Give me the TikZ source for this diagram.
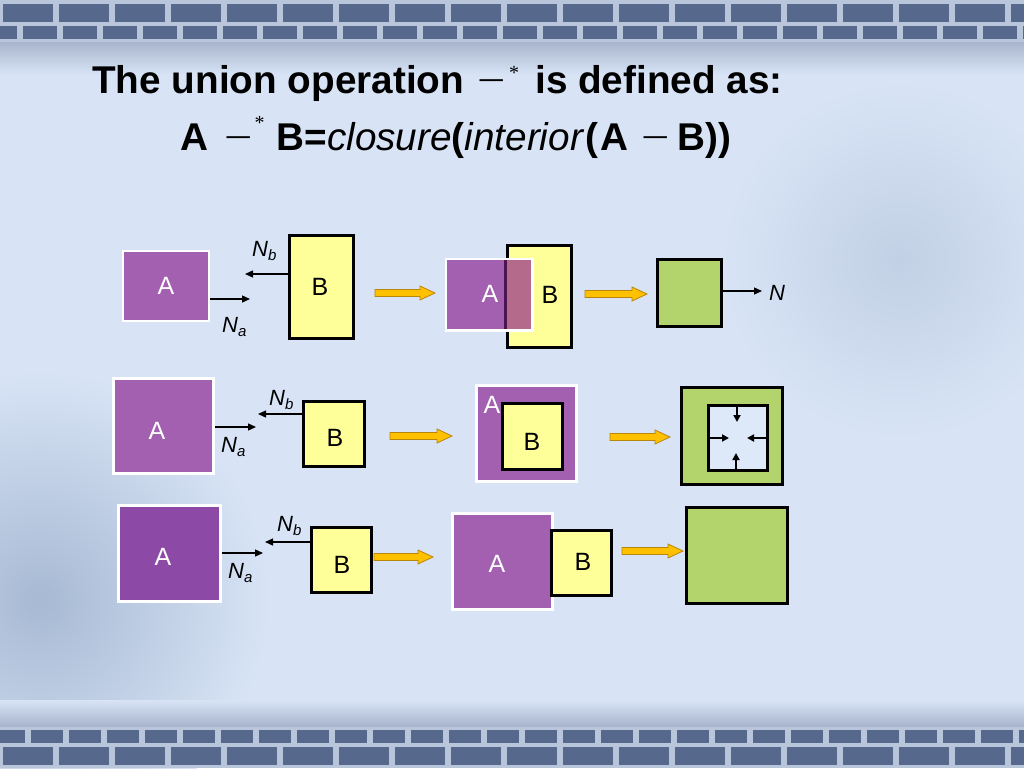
\documentclass[tikz,border=0pt]{standalone}
\usepackage{fontspec}
\setmainfont{Liberation Sans}
\newfontfamily\serifminus{Liberation Serif}
\usetikzlibrary{arrows.meta,calc}
\definecolor{bgc}{HTML}{D8E4F6}
\definecolor{purp}{HTML}{A35FB0}
\definecolor{purpd}{HTML}{8C4AA6}
\definecolor{yel}{HTML}{FFFF99}
\definecolor{grn}{HTML}{B3D46C}
\definecolor{ovl}{HTML}{B36A8B}
\definecolor{darkp}{HTML}{4A1552}
\definecolor{arrfill}{HTML}{FFC000}
\definecolor{arrdraw}{HTML}{B8860B}
\definecolor{brick}{HTML}{56698C}
\definecolor{mortar}{HTML}{B9C5DA}
\definecolor{innerc}{HTML}{DDE9F8}
\definecolor{blobl}{HTML}{A7B9D3}
\definecolor{blobr}{HTML}{C2D0E5}
\tikzset{
  abox/.style={draw=white, line width=2.5pt, fill=purp, inner sep=0pt},
  bbox/.style={draw=black, line width=3pt, fill=yel, inner sep=0pt},
  gbox/.style={draw=black, line width=3pt, fill=grn, inner sep=0pt},
  wlab/.style={text=white, font=\fontsize{25}{25}\selectfont, inner sep=0pt},
  klab/.style={text=black, font=\fontsize{25}{25}\selectfont, inner sep=0pt},
  nlab/.style={anchor=base west, inner sep=0pt, font=\fontsize{22}{22}\selectfont\itshape},
  narr/.style={line width=1.3pt, -{Triangle[length=8pt,width=7pt]}},
  narrin/.style={line width=2pt, -{Triangle[length=7pt,width=7pt]}},
  yarr/.style={fill=arrfill, draw=arrdraw, line width=0.8pt, line join=miter},
}
\newcommand{\subsc}[1]{\raisebox{-4pt}{\fontsize{15}{15}\selectfont #1}}
\newcommand{\wminus}{{\serifminus\mdseries\scalebox{1.3}[1]{−}}}
\newcommand{\yarrow}[2]{\draw[yarr] ($(#1)+(0,-3.5)$) -- ($(#2)+(-15,-3.5)$) -- ($(#2)+(-15,-7)$) -- (#2) -- ($(#2)+(-15,7)$) -- ($(#2)+(-15,3.5)$) -- ($(#1)+(0,3.5)$) -- cycle;}
\begin{document}
\begin{tikzpicture}[x=1pt,y=-1pt]
\useasboundingbox (0,0) rectangle (1024,768);
% background
\fill[bgc] (0,0) rectangle (1024,768);
\begin{scope}
\clip (0,0) rectangle (1024,768);
\shade[inner color=blobl, outer color=bgc] (40,600) circle (230);
\shade[inner color=blobr, outer color=bgc] (900,260) circle (180);
\end{scope}
\shade[top color=mortar!80!brick, bottom color=bgc] (0,40) rectangle (1024,75);
\fill[mortar] (0,0) rectangle (1024,42);
\foreach \x in {0,56,...,1024} \fill[brick] (\x+3,4) rectangle (\x+53,22);
\foreach \x in {-20,20,...,1024} \fill[brick] (\x+3,26) rectangle (\x+37,39);
\shade[top color=bgc, bottom color=mortar!80!brick] (0,700) rectangle (1024,727);
\fill[mortar] (0,727) rectangle (1024,768);
\foreach \x in {-10,28,...,1024} \fill[brick] (\x+3,730) rectangle (\x+35,743);
\foreach \x in {0,56,...,1024} \fill[brick] (\x+3,747) rectangle (\x+53,765);
% title
\node[anchor=base west, inner sep=0pt, font=\fontsize{38.7}{40}\selectfont\bfseries] (title1) at (92,93)
  {The union operation \hspace{3pt}\wminus\hspace{3pt}{\serifminus\mdseries\raisebox{14pt}{\fontsize{20}{20}\selectfont *}}\hspace{16pt}is defined as:};
\node[anchor=base west, inner sep=0pt, font=\fontsize{38.7}{40}\selectfont\bfseries] (title2) at (180,150)
  {A\hspace{16pt}\wminus\hspace{2pt}{\serifminus\mdseries\raisebox{21pt}{\fontsize{20}{20}\selectfont *}}\hspace{12pt}B={\mdseries\itshape closure}({\mdseries\itshape interior}\hspace{2pt}(\hspace{3pt}A\hspace{13pt}\wminus\hspace{7pt}B))};
% ---------- row 1 ----------
\node[abox, minimum width=86, minimum height=70] (A1) at (166,286) {};
\node[wlab] (A1t) at (166,286) {A};
\node[bbox, minimum width=64, minimum height=103] (B1) at (321,286.5) {};
\node[klab] (B1t) at (320,287) {B};
\coordinate (na1) at (250,299);
\draw[narr] (A1.east |- na1) -- (na1);
\node[nlab] (Na1) at (222,332) {N\subsc{a}};
\coordinate (nb1) at (245,274);
\draw[narr] (B1.west |- nb1) -- (nb1);
\node[nlab] (Nb1) at (252,256) {N\subsc{b}};
\coordinate (y1s) at (375,293); \coordinate (y1e) at (435,293);
\yarrow{y1s}{y1e}
\node[bbox, minimum width=64, minimum height=102] (B1b) at (539,296) {};
\node[abox, draw=none, minimum width=84, minimum height=69] (A1b) at (489,294.5) {};
\fill[ovl] (B1b.west |- A1b.north) rectangle (A1b.south east);
\draw[darkp, line width=3pt] (B1b.west |- A1b.north) -- (B1b.west |- A1b.south);
\draw[white, line width=2.5pt] (A1b.north west) rectangle (A1b.south east);
\node[wlab] (A1bt) at (490,294) {A};
\node[klab] (B1bt) at (550,295) {B};
\coordinate (y2s) at (585,294); \coordinate (y2e) at (647,294);
\yarrow{y2s}{y2e}
\node[gbox, minimum width=64, minimum height=67] (G1) at (689.5,293) {};
\coordinate (n1) at (762,291);
\draw[narr] (G1.east |- n1) -- (n1);
\node[nlab] (N1) at (769,300) {N};
% ---------- row 2 ----------
\node[abox, minimum width=100, minimum height=95] (A2) at (163.5,426) {};
\node[wlab] (A2t) at (157,431) {A};
\coordinate (na2) at (256,427);
\draw[narr] (A2.east |- na2) -- (na2);
\node[nlab] (Na2) at (221,452) {N\subsc{a}};
\node[bbox, minimum width=61, minimum height=65] (B2) at (334,434) {};
\node[klab] (B2t) at (335,438) {B};
\coordinate (nb2) at (258,414);
\draw[narr] (B2.west |- nb2) -- (nb2);
\node[nlab] (Nb2) at (269,405) {N\subsc{b}};
\coordinate (y3s) at (390,436); \coordinate (y3e) at (452,436);
\yarrow{y3s}{y3e}
\node[abox, minimum width=100, minimum height=96] (A2b) at (526.5,433.5) {};
\node[wlab] (A2bt) at (492,405) {A};
\node[bbox, minimum width=60, minimum height=66] (B2b) at (532.5,436.5) {};
\node[klab] (B2bt) at (532,442) {B};
\coordinate (y4s) at (610,437); \coordinate (y4e) at (670,437);
\yarrow{y4s}{y4e}
\node[gbox, minimum width=101, minimum height=97] (G2) at (732,436) {};
\node[draw=black, line width=3pt, fill=innerc, inner sep=0pt, minimum width=59, minimum height=65] (I2) at (738,438) {};
\coordinate (t2top) at (737,422);
\coordinate (t2bot) at (736,453);
\coordinate (t2lft) at (729,438);
\coordinate (t2rgt) at (747,438);
\draw[narrin] (I2.north -| t2top) -- (t2top);
\draw[narrin] (I2.south -| t2bot) -- (t2bot);
\draw[narrin] (I2.west |- t2lft) -- (t2lft);
\draw[narrin] (I2.east |- t2rgt) -- (t2rgt);
% ---------- row 3 ----------
\node[abox, fill=purpd, minimum width=102, minimum height=96] (A3) at (169.5,553.5) {};
\node[wlab] (A3t) at (163,557) {A};
\coordinate (na3) at (263,553);
\draw[narr] (A3.east |- na3) -- (na3);
\node[nlab] (Na3) at (228,578) {N\subsc{a}};
\node[bbox, minimum width=60, minimum height=65] (B3) at (341.5,560) {};
\node[klab] (B3t) at (342,565) {B};
\coordinate (nb3) at (265,542);
\draw[narr] (B3.west |- nb3) -- (nb3);
\node[nlab] (Nb3) at (277,531) {N\subsc{b}};
\coordinate (y5s) at (374,557); \coordinate (y5e) at (433,557);
\yarrow{y5s}{y5e}
\node[abox, minimum width=100, minimum height=96] (A3b) at (502.5,561.5) {};
\node[wlab] (A3bt) at (497,564) {A};
\node[bbox, minimum width=60, minimum height=65] (B3b) at (581.5,563) {};
\node[klab] (B3bt) at (583,562) {B};
\coordinate (y6s) at (622,551); \coordinate (y6e) at (683,551);
\yarrow{y6s}{y6e}
\node[gbox, minimum width=101, minimum height=96] (G3) at (737,555.5) {};
\end{tikzpicture}
\end{document}
